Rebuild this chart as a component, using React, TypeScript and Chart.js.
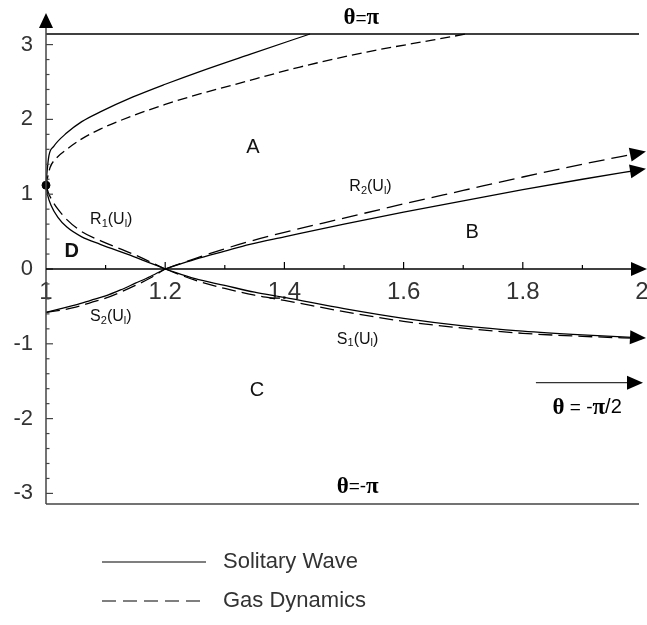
import React, { useEffect, useRef } from "react";
import { Chart, registerables } from "chart.js";
Chart.register(...registerables);

const PI = Math.PI;

// Solitary wave (solid) curves
const upperSolidX = [1, 1.002, 1.005, 1.013, 1.035, 1.06, 1.091, 1.146, 1.2, 1.258, 1.342, 1.443];
const upperSolidY = [1.12, 1.32, 1.52, 1.64, 1.82, 1.97, 2.1, 2.3, 2.47, 2.64, 2.87, PI];
const r1SolidX = [1, 1.003, 1.008, 1.02, 1.035, 1.06, 1.091, 1.146, 1.2];
const r1SolidY = [1.12, 0.98, 0.86, 0.69, 0.56, 0.43, 0.33, 0.17, 0];
const r2SolidX = [1.2, 1.25, 1.3, 1.342, 1.4, 1.5, 1.6, 1.7, 1.8, 1.9, 2.0];
const r2SolidY = [0, 0.13, 0.24, 0.33, 0.43, 0.6, 0.76, 0.91, 1.06, 1.2, 1.33];
const s1SolidX = [1.2, 1.25, 1.3, 1.35, 1.4, 1.5, 1.6, 1.7, 1.8, 1.9, 2.0];
const s1SolidY = [0, -0.13, -0.22, -0.31, -0.38, -0.53, -0.66, -0.76, -0.83, -0.88, -0.92];
const s2SolidX = [1, 1.025, 1.05, 1.075, 1.1, 1.125, 1.15, 1.175, 1.2];
const s2SolidY = [-0.58, -0.53, -0.48, -0.42, -0.36, -0.28, -0.19, -0.1, 0];

// Gas dynamics (dashed) curves
const upperDashX = [1, 1.002, 1.007, 1.016, 1.035, 1.06, 1.091, 1.146, 1.2, 1.258, 1.314, 1.426, 1.538, 1.648, 1.705];
const upperDashY = [1.12, 1.2, 1.36, 1.47, 1.6, 1.74, 1.87, 2.05, 2.2, 2.34, 2.46, 2.7, 2.9, 3.06, PI];
const r1DashX = [1, 1.004, 1.01, 1.02, 1.035, 1.06, 1.091, 1.146, 1.2];
const r1DashY = [1.12, 1.02, 0.92, 0.8, 0.66, 0.5, 0.38, 0.2, 0];
const r2DashX = [1.2, 1.25, 1.3, 1.342, 1.4, 1.5, 1.6, 1.7, 1.8, 1.9, 2.0];
const r2DashY = [0, 0.14, 0.27, 0.37, 0.49, 0.68, 0.87, 1.05, 1.23, 1.4, 1.56];
const s1DashX = [1.2, 1.25, 1.3, 1.35, 1.4, 1.5, 1.6, 1.7, 1.8, 1.9, 2.0];
const s1DashY = [0, -0.15, -0.26, -0.35, -0.42, -0.57, -0.7, -0.79, -0.86, -0.9, -0.93];
const s2DashX = [1, 1.025, 1.05, 1.075, 1.1, 1.125, 1.15, 1.175, 1.2];
const s2DashY = [-0.58, -0.55, -0.51, -0.45, -0.39, -0.31, -0.22, -0.12, 0];

// Boundary lines and markers
const boundX = [1, 1.995];
const topY = [PI, PI];
const bottomY = [-PI, -PI];
const dotX = [1];
const dotY = [1.12];
const halfPiArrowX = [1.822, 1.995];
const halfPiArrowY = [-1.52, -1.52];

// Ticks
const xTickValues = [1, 1.2, 1.4, 1.6, 1.8, 2];
const xTickLabels = ["1", "1.2", "1.4", "1.6", "1.8", "2"];
const yTickValues = [-3, -2, -1, 0, 1, 2, 3];
const yTickLabels = ["-3", "-2", "-1", "0", "1", "2", "3"];

// Annotations
const regionLabels = ["A", "B", "C", "D"];
const regionX = [1.347, 1.715, 1.354, 1.043];
const regionY = [1.63, 0.49, -1.62, 0.23];
const curveLabelMain = ["R", "R", "S", "S"];
const curveLabelSub = ["1", "2", "2", "1"];
const curveLabelX = [1.074, 1.509, 1.074, 1.488];
const curveLabelY = [0.66, 1.1, -0.64, -0.94];
const legendLabels = ["Solitary Wave", "Gas Dynamics"];

const SANS = "'Liberation Sans', Arial, sans-serif";
const SERIF = "'Liberation Serif', 'Times New Roman', serif";

const pts = (xs: number[], ys: number[]) => xs.map((x, i) => ({ x, y: ys[i] }));

function drawArrow(ctx: CanvasRenderingContext2D, tx: number, ty: number, ang: number, len = 16, half = 7) {
  ctx.save();
  ctx.translate(tx, ty);
  ctx.rotate(ang);
  ctx.beginPath();
  ctx.moveTo(0, 0);
  ctx.lineTo(-len, -half);
  ctx.lineTo(-len, half);
  ctx.closePath();
  ctx.fill();
  ctx.restore();
}

type Part = { t: string; font: string; dy?: number };
function drawRich(ctx: CanvasRenderingContext2D, parts: Part[], x: number, y: number, align: "left" | "center") {
  let total = 0;
  for (const p of parts) {
    ctx.font = p.font;
    total += ctx.measureText(p.t).width;
  }
  let cx = align === "center" ? x - total / 2 : x;
  ctx.textAlign = "left";
  ctx.textBaseline = "middle";
  for (const p of parts) {
    ctx.font = p.font;
    ctx.fillText(p.t, cx, y + (p.dy || 0));
    cx += ctx.measureText(p.t).width;
  }
}

const decorPlugin = {
  id: "decor",
  afterDatasetsDraw(chart: any) {
    const { ctx, scales, chartArea } = chart;
    const xs = scales.x;
    const ys = scales.y;
    const px = (v: number) => xs.getPixelForValue(v);
    const py = (v: number) => ys.getPixelForValue(v);
    ctx.save();
    ctx.fillStyle = "#000";

    // y axis line + arrow
    const x0 = px(1);
    ctx.strokeStyle = "#444";
    ctx.lineWidth = 1.5;
    ctx.beginPath();
    ctx.moveTo(x0, py(-PI));
    ctx.lineTo(x0, chartArea.top - 8);
    ctx.stroke();
    drawArrow(ctx, x0, chartArea.top - 21, -Math.PI / 2, 15, 7);

    // y ticks (inside)
    ctx.lineWidth = 1.2;
    for (let i = -15; i <= 15; i++) {
      const v = i / 5;
      const len = i % 5 === 0 ? 7 : 3.5;
      ctx.beginPath();
      ctx.moveTo(x0, py(v));
      ctx.lineTo(x0 + len, py(v));
      ctx.stroke();
    }

    // x axis line + arrow
    const y0 = py(0);
    ctx.strokeStyle = "#000";
    ctx.lineWidth = 1.5;
    ctx.beginPath();
    ctx.moveTo(x0, y0);
    ctx.lineTo(chart.width - 10, y0);
    ctx.stroke();
    drawArrow(ctx, chart.width, y0, 0, 16, 7);
    ctx.lineWidth = 1.2;
    for (let i = 1; i <= 9; i++) {
      const v = 1 + i / 10;
      const len = i % 2 === 0 ? 7 : 4;
      ctx.beginPath();
      ctx.moveTo(px(v), y0);
      ctx.lineTo(px(v), y0 - len);
      ctx.stroke();
    }

    // curve-end arrows
    const endArrow = (xa: number[], ya: number[]) => {
      const n = xa.length;
      const ex = px(xa[n - 1]);
      const ey = py(ya[n - 1]);
      const bx = px(xa[n - 2]);
      const by = py(ya[n - 2]);
      const ang = Math.atan2(ey - by, ex - bx);
      drawArrow(ctx, ex + 4 * Math.cos(ang), ey + 4 * Math.sin(ang), ang, 16, 7);
    };
    endArrow(r2SolidX, r2SolidY);
    endArrow(r2DashX, r2DashY);
    endArrow(s1SolidX, s1SolidY);
    endArrow(halfPiArrowX, halfPiArrowY);

    // region labels
    ctx.fillStyle = "#111";
    ctx.textAlign = "center";
    ctx.textBaseline = "middle";
    regionLabels.forEach((l, i) => {
      ctx.font = (l === "D" ? "bold " : "") + "20px " + SANS;
      ctx.fillText(l, px(regionX[i]), py(regionY[i]));
    });

    // curve labels
    curveLabelMain.forEach((m, i) => {
      const big = "16px " + SANS;
      const small = "11px " + SANS;
      drawRich(
        ctx,
        [
          { t: m, font: big },
          { t: curveLabelSub[i], font: small, dy: 4 },
          { t: "(U", font: big },
          { t: "l", font: small, dy: 4 },
          { t: ")", font: big },
        ],
        px(curveLabelX[i]),
        py(curveLabelY[i]),
        "left"
      );
    });

    // theta labels
    ctx.fillStyle = "#000";
    const bs = "bold 23px " + SERIF;
    const eq = "19px " + SANS;
    drawRich(ctx, [{ t: "θ", font: bs }, { t: "=", font: eq }, { t: "π", font: bs }], px(1.529), py(3.35), "center");
    drawRich(ctx, [{ t: "θ", font: bs }, { t: "=-", font: eq }, { t: "π", font: bs }], px(1.523), py(-2.91), "center");
    drawRich(
      ctx,
      [
        { t: "θ", font: bs },
        { t: " = -", font: eq },
        { t: "π", font: bs },
        { t: "/2", font: "20px " + SANS },
      ],
      px(1.908),
      py(-1.855),
      "center"
    );

    // legend
    const lx0 = 102;
    const lx1 = 206;
    const ly = [562, 601];
    ctx.strokeStyle = "#555";
    ctx.lineWidth = 1.5;
    ly.forEach((y, i) => {
      ctx.setLineDash(i === 0 ? [] : [14, 7]);
      ctx.beginPath();
      ctx.moveTo(lx0, y);
      ctx.lineTo(lx1, y);
      ctx.stroke();
    });
    ctx.setLineDash([]);
    ctx.fillStyle = "#333";
    ctx.font = "22px " + SANS;
    ctx.textAlign = "left";
    ctx.textBaseline = "middle";
    legendLabels.forEach((l, i) => ctx.fillText(l, 223, ly[i]));

    ctx.restore();
  },
};

export default function App() {
  const ref = useRef<HTMLCanvasElement | null>(null);
  useEffect(() => {
    if (!ref.current) return;
    const solid = (xs: number[], ys: number[]) => ({
      data: pts(xs, ys),
      showLine: true,
      borderColor: "#000",
      borderWidth: 1.3,
      pointRadius: 0,
      cubicInterpolationMode: "monotone" as const,
      clip: 8,
    });
    const dashed = (xs: number[], ys: number[], dash: number[]) => ({
      ...solid(xs, ys),
      borderDash: dash,
    });
    const chart = new Chart(ref.current, {
      type: "scatter",
      data: {
        datasets: [
          solid(upperSolidX, upperSolidY),
          solid(r1SolidX, r1SolidY),
          solid(r2SolidX, r2SolidY),
          solid(s1SolidX, s1SolidY),
          solid(s2SolidX, s2SolidY),
          dashed(upperDashX, upperDashY, [10, 5]),
          dashed(r1DashX, r1DashY, [14, 6]),
          dashed(r2DashX, r2DashY, [16, 7]),
          dashed(s1DashX, s1DashY, [14, 6]),
          dashed(s2DashX, s2DashY, [14, 6]),
          { ...solid(boundX, topY), borderWidth: 1.5, cubicInterpolationMode: "default" as const },
          { ...solid(boundX, bottomY), borderColor: "#444", borderWidth: 1.5, cubicInterpolationMode: "default" as const },
          { ...solid(halfPiArrowX, halfPiArrowY), borderColor: "#333", borderWidth: 1.3, cubicInterpolationMode: "default" as const },
          {
            data: pts(dotX, dotY),
            showLine: false,
            pointRadius: 4,
            pointBackgroundColor: "#000",
            pointBorderColor: "#000",
            clip: 8,
          },
        ] as any,
      },
      options: {
        animation: false,
        responsive: false,
        layout: { padding: { top: 34, bottom: 121, right: 4, left: 0 } },
        plugins: { legend: { display: false }, tooltip: { enabled: false } },
        scales: {
          x: {
            type: "linear",
            min: 1,
            max: 2,
            position: { y: 0 } as any,
            grid: { display: false, drawTicks: false },
            border: { display: false },
            ticks: {
              color: "#333",
              font: { family: SANS, size: 24 },
              padding: 9,
              maxRotation: 0,
              autoSkip: false,
              callback: (v: any) => {
                const i = xTickValues.findIndex((t) => Math.abs(t - Number(v)) < 1e-6);
                return i >= 0 ? xTickLabels[i] : "";
              },
            },
            afterBuildTicks: (s: any) => {
              s.ticks = xTickValues.map((value) => ({ value }));
            },
            afterFit: (s: any) => {
              s.paddingLeft = 0;
              s.paddingRight = 0;
              s.paddingTop = 0;
              s.paddingBottom = 0;
            },
          },
          y: {
            type: "linear",
            min: -PI,
            max: PI,
            position: "left",
            grid: { display: false, drawTicks: false },
            border: { display: false },
            ticks: {
              color: "#333",
              font: { family: SANS, size: 22 },
              padding: 13,
              autoSkip: false,
              callback: (v: any) => {
                const i = yTickValues.findIndex((t) => Math.abs(t - Number(v)) < 1e-6);
                return i >= 0 ? yTickLabels[i] : "";
              },
            },
            afterBuildTicks: (s: any) => {
              s.ticks = yTickValues.map((value) => ({ value }));
            },
            afterFit: (s: any) => {
              s.width = 46;
              s.paddingTop = 0;
              s.paddingBottom = 0;
              s.paddingLeft = 0;
              s.paddingRight = 0;
            },
          },
        },
      },
      plugins: [decorPlugin],
    });
    return () => chart.destroy();
  }, []);
  return (
    <canvas
      ref={ref}
      width={647}
      height={625}
      style={{ position: "absolute", left: 0, top: 0, width: 647, height: 625, display: "block", background: "#fff" }}
    />
  );
}
